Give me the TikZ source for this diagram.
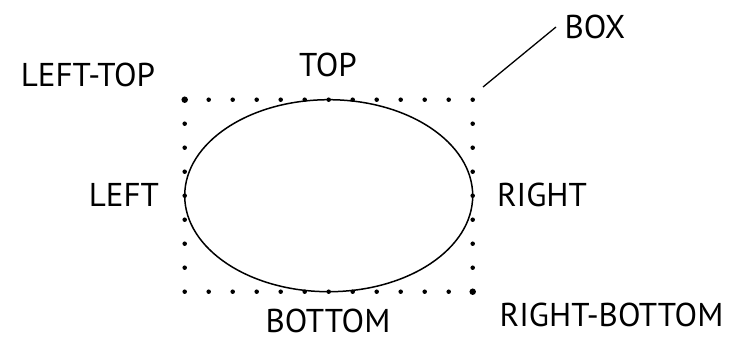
\documentclass[tikz,border=0pt]{standalone}
\usepackage{fontspec}
\setmainfont{PT Sans}
\begin{document}
\begin{tikzpicture}[x=1pt,y=-1pt,
  lbl/.style={inner sep=0pt,anchor=center,font=\fontsize{33}{33}\selectfont},
  dot/.style={circle,fill=black,inner sep=0pt,minimum size=4.5pt},
  bigdot/.style={circle,fill=black,inner sep=0pt,minimum size=6.5pt}]
\useasboundingbox (0,0) rectangle (733,341);
% dotted box
\foreach \i in {0,...,12} {
  \node[dot] at ({184.7+24*\i},99.7) {};
  \node[dot] at ({184.7+24*\i},291.7) {};
}
\foreach \j in {1,...,7} {
  \node[dot] at (184.7,{99.7+24*\j}) {};
  \node[dot] at (472.7,{99.7+24*\j}) {};
}
\node[bigdot] (lt) at (184.7,99.7) {};
\node[bigdot] (rb) at (472.7,291.7) {};
% ellipse
\draw[line width=1.5pt] (328.7,195.7) ellipse [x radius=144, y radius=96];
% labels
\node[lbl] (top) at (328,64.5) {TOP};
\node[lbl] (left) at (124,195) {LEFT};
\node[lbl] (right) at (542,195) {RIGHT};
\node[lbl] (bottom) at (328,321) {BOTTOM};
\node[lbl] (lefttop) at (88,75) {LEFT-TOP};
\node[lbl] (rightbottom) at (611.5,315) {RIGHT-BOTTOM};
\node[lbl] (box) at (595,27) {BOX};
\coordinate (c1) at (483,87);
\coordinate (c2) at (556,27);
\draw[line width=1.3pt] (c1) -- (c2);
\end{tikzpicture}
\end{document}
